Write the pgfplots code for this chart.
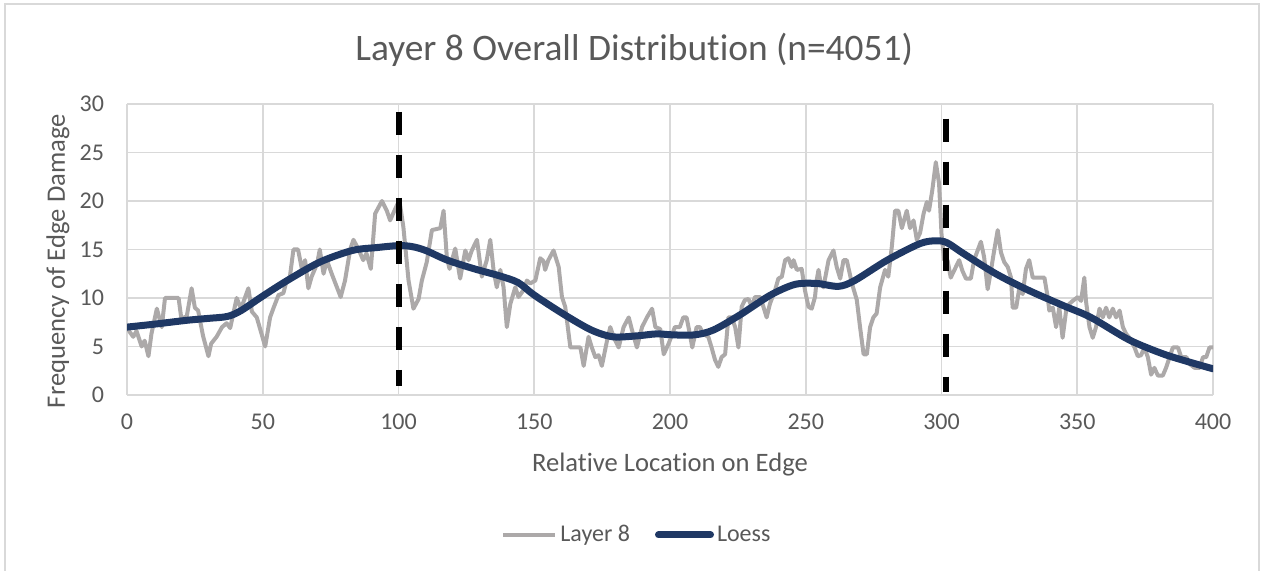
\documentclass[border=0pt]{standalone}
\usepackage{fontspec}
\setmainfont{Carlito}[Ligatures={NoCommon,TeX}]
\usepackage{pgfplots}
\pgfplotsset{compat=1.18}
\definecolor{txtgray}{RGB}{89,89,89}
\definecolor{gridgray}{RGB}{217,217,217}
\definecolor{linegray}{RGB}{172,169,169}
\definecolor{loessblue}{RGB}{31,56,100}
\begin{document}
\begin{tikzpicture}[x=1pt,y=1pt]
\useasboundingbox (-63.5,-88) rectangle (567,197.5);
\draw[gridgray, line width=0.8pt] (-61,-90) rectangle (566,195.5);
\begin{axis}[
  scale only axis,
  width=543pt, height=145.5pt,
  xmin=0, xmax=400, ymin=0, ymax=30,
  xtick={0,50,...,400}, ytick={0,5,...,30},
  axis x line=bottom, axis y line=left,
  x axis line style={-, draw=gridgray, line width=0.8pt},
  y axis line style={draw=none},
  grid=major,
  major grid style={draw=gridgray, line width=0.8pt},
  major tick length=0pt,
  tick label style={font=\fontsize{12}{14}\selectfont, text=txtgray},
  /pgf/number format/assume math mode=true,
  yticklabel style={anchor=east, xshift=-8pt},
  xticklabel style={anchor=north, yshift=-6pt},
  every axis title shift=0pt,
  title={Layer 8 Overall Distribution (n=4051)},
  title style={at={(axis description cs:0.467,1)}, anchor=center, yshift=27pt, font=\fontsize{18.7}{22}\selectfont, text=txtgray},
  xlabel={Relative Location on Edge},
  xlabel style={at={(axis description cs:0.5,0)}, anchor=center, yshift=-35pt, font=\fontsize{13.3}{16}\selectfont, text=txtgray},
  ylabel={Frequency of Edge Damage},
  ylabel style={at={(axis description cs:-0.0635,0.46)}, anchor=center, font=\fontsize{13.3}{16}\selectfont, text=txtgray},
  legend columns=2,
  legend style={at={(axis description cs:0.47,-0.481)}, anchor=center, draw=none, fill=none, font=\fontsize{12}{14}\selectfont, text=txtgray,
    nodes={inner xsep=1.5pt},
    /tikz/every even column/.append style={column sep=11pt}},
  legend image code/.code={\draw[#1] (0pt,0pt) -- (26pt,0pt);},
]
\addplot[linegray, line width=2pt, line join=round] coordinates {
(0,7) (1,6.5) (2.3,6) (3.5,6.6) (5.4,5) (6.5,5.6) (7.9,4) (9,6.3) (11,8.9) (12.8,7) (14,10) (16,10) (19,10) (20,7.9) (22,8.1) (23.8,11) (25,9) (26.2,8.7) (28,6.1) (30,4) (31,5.3) (33,6) (35,7) (36.7,7.4) (38,6.9) (40.4,10) (42,8.9) (44.7,11) (46,8.6) (47.8,8) (50.9,5) (52.7,8) (54,9) (55.8,10.3) (57.6,10.5) (58.8,11.8) (60,12.2) (61.3,15) (63,15) (64.4,13) (65.6,13.9) (66.8,11) (68,12.2) (70,13.5) (71,15) (72.4,12.5) (73.6,13.9) (75.4,12.5) (78.7,10.1) (80.3,11.8) (82.2,15) (83.4,16) (85.3,15) (87,13.9) (88.2,14.6) (89.8,13) (91.4,18.7) (93.9,20) (95.7,19) (96.9,18) (98.5,19) (100.3,20.1) (101.8,17.3) (103.7,11.8) (105.5,8.9) (107.4,9.9) (108.6,11.8) (110.4,13.7) (112.3,17) (115.4,17.2) (116.6,19) (117.8,14.2) (118.8,13) (120.9,15.1) (122.7,12) (124.6,14.9) (125.8,13.9) (127,14.9) (128.9,16) (130.7,12.2) (132.5,13.9) (133.8,16) (135,12.9) (136.2,11.1) (137.5,12.9) (138.7,11.1) (139.9,7) (141.2,9.4) (143,11.1) (144.2,10.1) (146,10.8) (147.3,11.8) (148.5,11.5) (150.4,11.8) (152.2,14.1) (153.4,13.8) (154,12.9) (155.2,13.9) (157.1,14.9) (159,13.2) (160.2,10.1) (161.4,9.1) (163.3,4.9) (165.1,4.9) (167,4.9) (168.2,3) (170,6) (171.2,4.9) (172.5,3.9) (173.7,4.1) (174.9,3) (176.8,5.6) (178,7) (179.2,6) (181.1,4.9) (182.9,7) (184.8,8) (186,6.7) (187.8,4.9) (189.7,7) (191.5,8) (193.4,8.9) (194.6,7) (196.4,6.8) (197.7,4.2) (199.5,5.3) (201.8,7) (203.6,7) (204.9,8) (206.1,8) (207.3,6.3) (208.2,4.9) (209.8,7) (211,7) (212.2,6.3) (214.1,6) (215.3,4.9) (216.6,3.6) (217.8,2.9) (219,3.9) (220.3,4.2) (221.5,8) (222.7,8) (224,7) (225.2,4.9) (226.4,9.1) (227.6,9.8) (228.9,9.9) (230.1,9.1) (231.3,10.1) (233.2,10.1) (234.4,9.1) (235.6,8) (236.8,9.4) (238.7,10.8) (239.9,12) (241.2,12.2) (242.4,13.9) (243.6,14.1) (244.8,13.2) (245.5,13.9) (246.7,12.9) (248.5,13) (249.7,10.8) (251,9.1) (252.2,8.9) (253.4,10.1) (254,11.8) (254.7,12.9) (255.3,11.8) (256.5,11.1) (258.4,13.9) (260.2,14.9) (261.4,13.2) (262.7,12) (263.9,13.9) (265.1,13.9) (267,11.5) (268.8,9.8) (270,7) (271.3,4.2) (272.5,4.2) (273.7,7) (274.9,8) (276.1,8.4) (277.4,11.1) (279.2,12.9) (280.4,12.2) (281.7,15.3) (282.9,19) (284.1,19) (285.4,17.2) (287.2,19) (288.4,17.2) (289.7,18) (290.9,16) (292.1,16.7) (293.4,18.7) (294.6,19.9) (295.4,19) (296.6,21.1) (297.9,24) (299.1,21.8) (300,16.6) (301,13.9) (302.2,13.9) (303.4,12.1) (304.6,12.8) (306.5,13.9) (307.7,12.8) (309,12) (310.8,12) (312,13.9) (313.3,14.9) (314.5,15.8) (315.7,14.2) (317,10.9) (318.2,12.8) (319.4,14.9) (320.7,17) (321.9,14.7) (323.1,13.7) (324.4,13.2) (325.6,12.1) (326.2,9) (327.5,9) (328.7,11.1) (329.9,10.4) (331.1,13) (332.3,13.9) (333.6,12.1) (335.4,12.1) (337.9,12.1) (339.1,10.1) (339.7,8.7) (341,9) (342.2,7) (343.4,9) (344.6,5.9) (345.9,8.7) (347.1,9.4) (348.3,9.7) (350.2,10.1) (351.4,9.7) (352.6,12.1) (353.2,9.7) (354.5,7) (355.7,5.9) (356.9,7) (358.2,8.9) (359.4,8) (360.6,9) (361.8,8) (363.1,8.9) (364.3,8) (365.6,8.7) (366.8,7) (368,6.3) (369.2,5.9) (371.1,4.9) (372.3,4) (373.5,4.1) (374.7,4.9) (376,3.9) (377.2,2.1) (378.4,2.8) (379.7,2) (381.5,2) (382.7,2.8) (384,3.9) (385.2,4.9) (387.1,4.9) (388.3,3.9) (390.2,3.9) (391.4,3.2) (393.2,2.8) (395.1,2.8) (396.3,3.9) (397.5,3.9) (398.7,4.9) (400,4.9)
};
\addlegendentry{Layer 8}
\addplot[loessblue, line width=3.5pt, smooth, line cap=round] coordinates {
(0,7) (10,7.3) (22,7.7) (30,7.9) (37,8.1) (42,8.7) (50,10.2) (59,11.8) (71,13.7) (83,14.9) (92,15.2) (100,15.4) (105,15.3) (110,14.9) (118,13.9) (128,13) (137,12.3) (144,11.6) (150,10.3) (161,8.3) (171,6.7) (179,6) (188,6.1) (195,6.3) (201,6.2) (209,6.2) (216,6.7) (226,8.3) (237,10.3) (246,11.4) (254,11.5) (262,11.2) (268,11.8) (280,13.9) (292,15.6) (298,15.9) (302,15.7) (308,14.6) (320,12.5) (332,10.8) (345,9.2) (355,8) (369,5.7) (381,4.3) (390,3.5) (400,2.7)
};
\addlegendentry{Loess}
\addplot[black, line width=3pt, dash pattern=on 11.5pt off 10pt, forget plot] coordinates {(100,29.2) (100,0.9)};
\addplot[black, line width=3pt, dash pattern=on 11.5pt off 10pt, forget plot] coordinates {(301.5,28.5) (301.5,0.3)};
\end{axis}
\end{tikzpicture}
\end{document}
